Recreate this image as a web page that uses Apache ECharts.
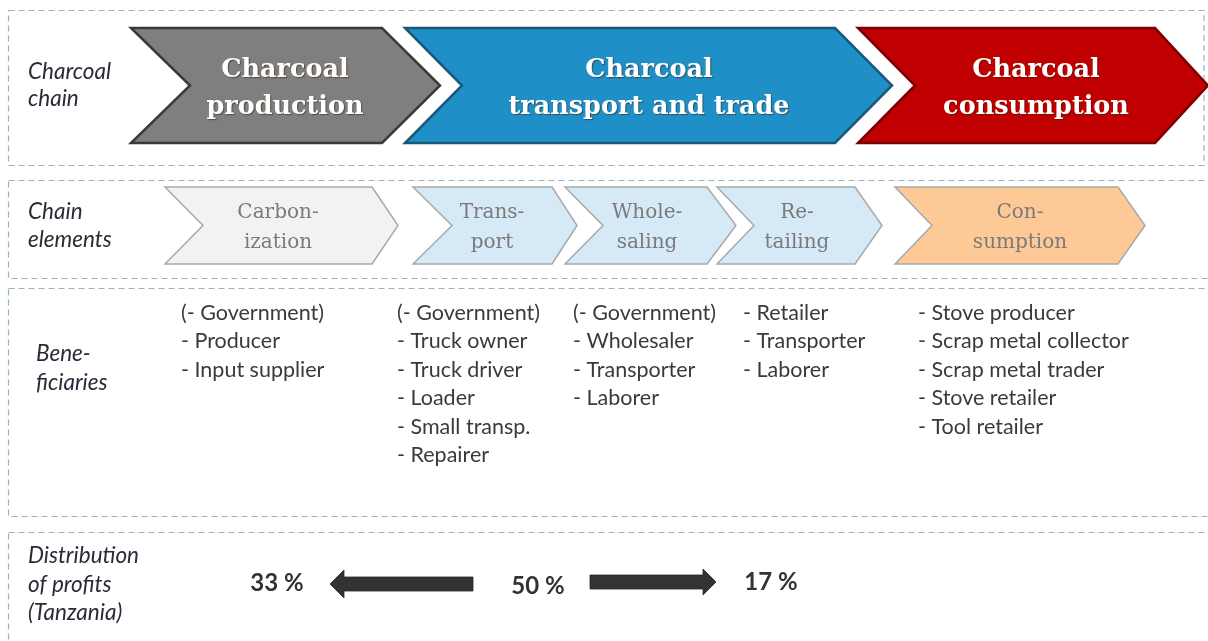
<!DOCTYPE html>
<html>
<head>
<meta charset="utf-8">
<script src="https://cdn.jsdelivr.net/npm/echarts@6/dist/echarts.min.js"></script>
<style>
html,body{margin:0;padding:0;background:#fff;}
#main{width:1208px;height:641px;}
</style>
</head>
<body>
<div id="main"></div>
<script>
// ---- data ----
const rowLabels = ['Charcoal\nchain', 'Chain\nelements', 'Bene-\nficiaries', 'Distribution\nof profits\n(Tanzania)'];
const chainStages = ['Charcoal\nproduction', 'Charcoal\ntransport and trade', 'Charcoal\nconsumption'];
const chainElements = ['Carbon-\nization', 'Trans-\nport', 'Whole-\nsaling', 'Re-\ntailing', 'Con-\nsumption'];
const beneficiaries = [
  ['(- Government)', '- Producer', '- Input supplier'],
  ['(- Government)', '- Truck owner', '- Truck driver', '- Loader', '- Small transp.', '- Repairer'],
  ['(- Government)', '- Wholesaler', '- Transporter', '- Laborer'],
  ['- Retailer', '- Transporter', '- Laborer'],
  ['- Stove producer', '- Scrap metal collector', '- Scrap metal trader', '- Stove retailer', '- Tool retailer']
];
const profitShares = [33, 50, 17];

// ---- layout (positions/styles) ----
const stageLayout = [
  {x0: 131, notch: 59, xr: 382, tip: 440, fill: '#7f7f7f', stroke: '#3a3a3a', tx: 285},
  {x0: 405, notch: 57, xr: 835, tip: 892, fill: '#1f8fc7', stroke: '#1a5878', tx: 649},
  {x0: 858, notch: 57, xr: 1155, tip: 1208, fill: '#c00000', stroke: '#7a0000', tx: 1036}
];
const stageY = {top: 28, bottom: 143};
const elemLayout = [
  {x0: 165, notch: 38, xr: 372, tip: 398, fill: '#f2f2f2', tx: 278},
  {x0: 413, notch: 39, xr: 552, tip: 577, fill: '#d5e9f6', tx: 492},
  {x0: 565, notch: 38, xr: 707, tip: 736, fill: '#d5e9f6', tx: 647},
  {x0: 717, notch: 37, xr: 855, tip: 882, fill: '#d5e9f6', tx: 797},
  {x0: 895, notch: 37, xr: 1118, tip: 1145, fill: '#fdc997', tx: 1020}
];
const elemY = {top: 187, bottom: 264};
const benefX = [181, 397, 573, 743, 918];
const benefTop = 313, benefLH = 28.5;
const boxes = [
  {y0: 10, y1: 165, x1: 1204},
  {y0: 180, y1: 278, x1: 1214},
  {y0: 288, y1: 516, x1: 1214},
  {y0: 532, y1: 660, x1: 1214}
];
const labelLayout = [
  {x: 28, cy: 85.5, lh: 27},
  {x: 28, cy: 226, lh: 28},
  {x: 36, cy: 368.5, lh: 29},
  {x: 28, cy: 584.5, lh: 28.5}
];
const profitTextLayout = [{x: 277, y: 583}, {x: 538, y: 586}, {x: 771, y: 582}];

function chevron(l, top, bottom) {
  const mid = (top + bottom) / 2;
  return [[l.x0, top], [l.xr, top], [l.tip, mid], [l.xr, bottom], [l.x0, bottom], [l.x0 + l.notch, mid]];
}
function txt(o) {
  const s = Object.assign({}, o.style);
  if (s.align) s.textAlign = s.align;
  if (s.verticalAlign) s.textVerticalAlign = s.verticalAlign;
  return Object.assign({type: 'text', silent: true}, o, {style: s});
}

const elements = [];
// dashed boxes
boxes.forEach(b => {
  elements.push({
    type: 'rect', silent: true,
    shape: {x: 8.5, y: b.y0 + 0.5, width: b.x1 - 8.5, height: b.y1 - b.y0},
    style: {fill: 'none', stroke: '#97b3bf', lineWidth: 1.2, lineDash: [6, 4]}
  });
});
// row labels
rowLabels.forEach((t, i) => {
  const L = labelLayout[i];
  elements.push(txt({
    style: {text: t, x: L.x, y: L.cy, align: 'left', verticalAlign: 'middle',
      font: 'italic 22.5px Lato', lineHeight: L.lh, fill: '#2a2a38'}
  }));
});
// big chevrons
chainStages.forEach((t, i) => {
  const L = stageLayout[i];
  elements.push({
    type: 'polygon', silent: true,
    shape: {points: chevron(L, stageY.top, stageY.bottom)},
    style: {fill: L.fill, stroke: L.stroke, lineWidth: 2.5, lineJoin: 'miter'}
  });
  elements.push(txt({
    style: {text: t, x: L.tx, y: (stageY.top + stageY.bottom) / 2 + 3, align: 'center', verticalAlign: 'middle',
      font: 'bold 25.5px "DejaVu Serif"', lineHeight: 37, fill: '#ffffff',
      textShadowColor: 'rgba(60,30,0,0.55)', textShadowOffsetX: 1, textShadowOffsetY: 1, textShadowBlur: 1,
      shadowColor: 'rgba(60,30,0,0.55)', shadowOffsetX: 1, shadowOffsetY: 1, shadowBlur: 1}
  }));
});
// chain elements
chainElements.forEach((t, i) => {
  const L = elemLayout[i];
  elements.push({
    type: 'polygon', silent: true,
    shape: {points: chevron(L, elemY.top, elemY.bottom)},
    style: {fill: L.fill, stroke: '#ffffff', lineWidth: 5, lineJoin: 'miter'}
  });
  elements.push({
    type: 'polygon', silent: true,
    shape: {points: chevron(L, elemY.top, elemY.bottom)},
    style: {fill: L.fill, stroke: '#a9a9a9', lineWidth: 1.5, lineJoin: 'miter'}
  });
  elements.push(txt({
    style: {text: t, x: L.tx, y: (elemY.top + elemY.bottom) / 2 + 2, align: 'center', verticalAlign: 'middle',
      font: '20px "DejaVu Serif"', lineHeight: 30, fill: '#7a7a7a'}
  }));
});
// beneficiaries
beneficiaries.forEach((list, i) => {
  elements.push(txt({
    style: {text: list.join('\n'), x: benefX[i], y: benefTop - benefLH / 2, align: 'left', verticalAlign: 'top',
      font: '21.5px Lato', lineHeight: benefLH, fill: '#3a3a3a'}
  }));
});
// profit distribution
profitShares.forEach((v, i) => {
  const P = profitTextLayout[i];
  elements.push(txt({
    style: {text: v + ' %', x: P.x, y: P.y, align: 'center', verticalAlign: 'middle',
      font: 'bold 24px Lato', fill: '#333333'}
  }));
});
elements.push({
  type: 'polygon', silent: true,
  shape: {points: [[330, 584], [344, 570], [344, 577], [473, 577], [473, 591], [344, 591], [344, 598]]},
  style: {fill: '#333333', stroke: '#2a2a2a', lineWidth: 0.8}
});
elements.push({
  type: 'polygon', silent: true,
  shape: {points: [[590, 575], [703, 575], [703, 569], [716, 582], [703, 595], [703, 589], [590, 589]]},
  style: {fill: '#333333', stroke: '#2a2a2a', lineWidth: 0.8}
});

const chart = echarts.init(document.getElementById('main'), null, {renderer: 'canvas'});
chart.setOption({
  backgroundColor: '#ffffff',
  animation: false,
  graphic: {elements: elements}
});
</script>
</body>
</html>
